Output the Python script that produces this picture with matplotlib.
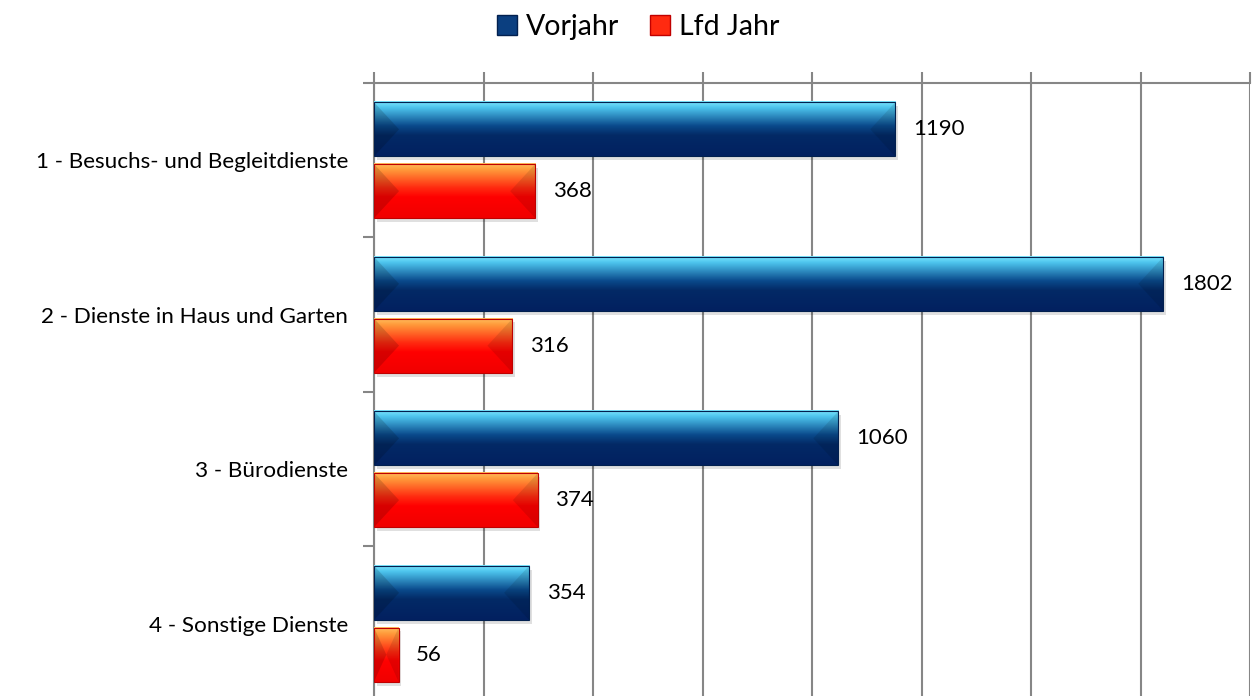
import numpy as np
import matplotlib.pyplot as plt
from matplotlib.patches import Polygon, Rectangle, Patch
from matplotlib.colors import LinearSegmentedColormap

## Daten
kategorien = ['1 - Besuchs- und Begleitdienste', '2 - Dienste in Haus und Garten',
              '3 - Bürodienste', '4 - Sonstige Dienste']
vorjahr = [1190, 1802, 1060, 354]
lfd_jahr = [368, 316, 374, 56]
serien = ['Vorjahr', 'Lfd Jahr']

plt.rcParams['font.family'] = ['Lato', 'DejaVu Sans']

## Farbverlaeufe (oben -> unten)
cm_blau = LinearSegmentedColormap.from_list('blau', [(0, '#7ee8ff'), (0.12, '#4cc3ec'),
                                                     (0.45, '#0a4a8c'), (0.62, '#032a66'),
                                                     (1, '#022060')])
cm_rot = LinearSegmentedColormap.from_list('rot', [(0, '#ffc060'), (0.12, '#ff9a3a'),
                                                   (0.45, '#ff2a10'), (0.62, '#ff0000'),
                                                   (1, '#f00000')])
grad = np.linspace(0, 1, 256).reshape(-1, 1)

fig = plt.figure(figsize=(12.56, 6.96), dpi=100)
ax = fig.add_axes([0.2978, -0.0072, 0.6975, 0.888])

h = 0.35
xmax = 2000
px_x = 0.6975 * 1256 / xmax      # Pixel pro Einheit
bevel_px = 25


def balken(y, v, cmap, kante):
    top, bot = y - h / 2, y + h / 2
    # Schatten
    ax.add_patch(Rectangle((6, top + 0.025), v, h, facecolor='#000000', alpha=0.12,
                           edgecolor='none', zorder=2))
    ax.imshow(grad, cmap=cmap, extent=[0, v, bot, top], aspect='auto',
              interpolation='bilinear', zorder=3)
    b = min(bevel_px / px_x, v / 2)
    ax.add_patch(Polygon([(0, top), (b, y), (0, bot)], closed=True, facecolor='black',
                         alpha=0.15, edgecolor='none', zorder=4))
    ax.add_patch(Polygon([(v, top), (v - b, y), (v, bot)], closed=True, facecolor='black',
                         alpha=0.10, edgecolor='none', zorder=4))
    ax.add_patch(Rectangle((0, top), v, h, facecolor='none', edgecolor=kante,
                           linewidth=0.8, zorder=5))
    ax.text(v + 40, y, str(v), va='center', ha='left', fontsize=16, color='black')


for i, (a, b) in enumerate(zip(vorjahr, lfd_jahr)):
    balken(i - 0.2, a, cm_blau, '#02204f')
    balken(i + 0.2, b, cm_rot, '#c00000')

ax.set_xlim(0, xmax)
ax.set_ylim(len(kategorien) - 0.5, -0.5)

ax.xaxis.tick_top()
ax.set_xticks(np.arange(0, xmax + 1, 250))
ax.set_xticklabels([])
ax.set_yticks(range(len(kategorien)))
ax.set_yticklabels(kategorien, fontsize=16.2)
ax.set_yticks(np.arange(-0.5, len(kategorien), 1), minor=True)
ax.tick_params(axis='y', which='major', length=0, pad=18.5)
ax.tick_params(axis='y', which='minor', length=8, width=1.5, color='#868686')
ax.tick_params(axis='x', length=8, width=1.5, color='#868686')
ax.grid(axis='x', color='#868686', linewidth=1.5, zorder=0)
ax.set_axisbelow(True)
for s in ['right', 'bottom']:
    ax.spines[s].set_visible(False)
for s in ['top', 'left']:
    ax.spines[s].set_color('#868686')
    ax.spines[s].set_linewidth(1.5)

## Legende
handles = [Patch(facecolor='#0b3f80', edgecolor='#02204f', label=serien[0]),
           Patch(facecolor='#ff2a10', edgecolor='#c00000', label=serien[1])]
fig.legend(handles=handles, loc='center', bbox_to_anchor=(0.508, 0.961), ncol=2,
           frameon=False, fontsize=20.5, handlelength=0.72, handleheight=0.72,
           handletextpad=0.3, columnspacing=1.08)

fig.savefig('out.png', dpi=100)
